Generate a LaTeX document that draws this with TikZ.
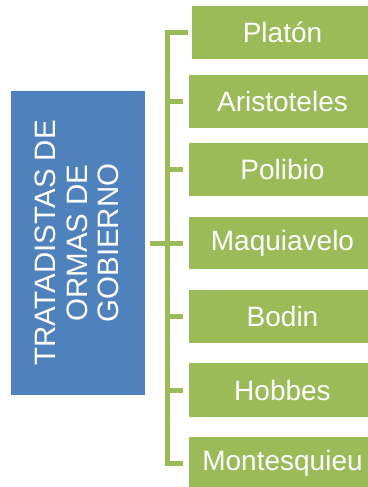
\documentclass[tikz,border=0pt]{standalone}
\usepackage{fontspec}
\setmainfont{Liberation Sans}
\definecolor{rootblue}{HTML}{4F81BD}
\definecolor{leafgreen}{HTML}{9BBB59}
\begin{document}
\begin{tikzpicture}[x=1pt,y=-1pt,
  rootbox/.style={fill=rootblue, draw=none, minimum width=134pt, minimum height=304pt, inner sep=0pt},
  roottext/.style={rotate=90, text=white, align=center, font=\fontsize{29.5}{31.7}\selectfont, inner sep=0pt},
  leaf/.style={fill=leafgreen, draw=none, minimum width=187pt, minimum height=53pt, inner sep=0pt,
    text=white, font=\fontsize{28}{32}\selectfont},
  conn/.style={draw=leafgreen, line width=5pt}
]
\useasboundingbox (0,0) rectangle (367,487);
\node[rootbox] (root) at (78,243) {};
\node[roottext] (roottxt) at ([xshift=-1pt]root.center) {TRATADISTAS DE\\ORMAS DE\\GOBIERNO};

\node[leaf, minimum width=181pt] (p1) at (282.5,32.5) {Platón};
\node[leaf] (p2) at (282.5,101.5) {Aristoteles};
\node[leaf] (p3) at (282.5,169.5) {Polibio};
\node[leaf, minimum height=52pt] (p4) at (282.5,243) {Maquiavelo};
\node[leaf] (p5) at (282.5,316.5) {Bodin};
\node[leaf, minimum height=54pt] (p6) at (282.5,390) {Hobbes};
\node[leaf, minimum height=52pt] (p7) at (282.5,463) {Montesquieu};

\coordinate (trunk) at (167.5,243);
\draw[conn] ([xshift=-4pt]p1.west) -| (trunk |- p7.west) -- ([xshift=-6pt]p7.west);
\draw[conn] ([xshift=5pt]root.east) -- ([xshift=-6pt]p4.west);
\foreach \n in {p2,p3,p5,p6}
  \draw[conn] (trunk |- \n.west) -- ([xshift=-6pt]\n.west);
\end{tikzpicture}
\end{document}
